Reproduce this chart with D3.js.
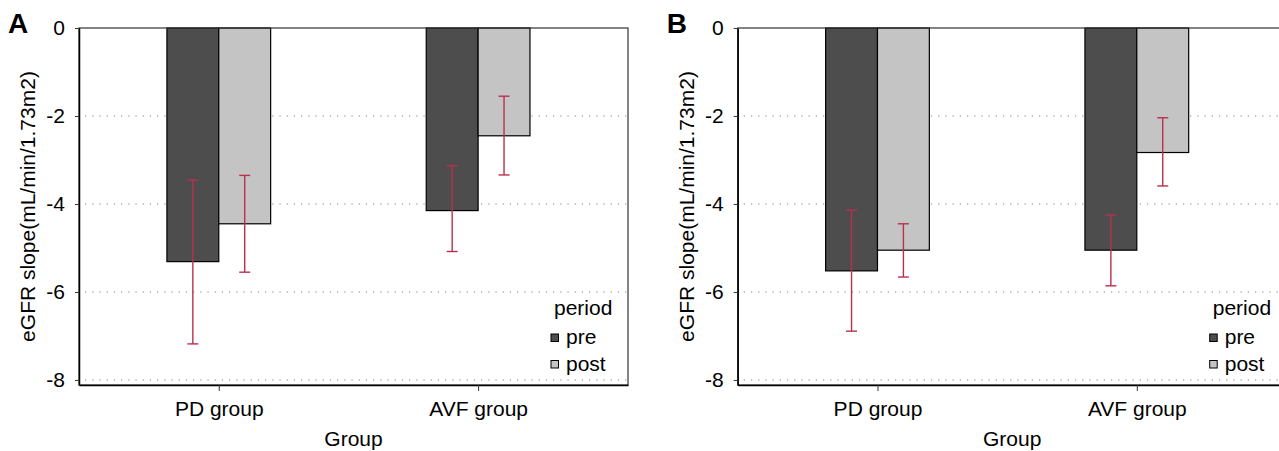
<!DOCTYPE html>
<html>
<head>
<meta charset="utf-8">
<script src="https://cdn.jsdelivr.net/npm/d3@7"></script>
<style>
  body { margin: 0; background: #fff; }
  svg { display: block; font-family: "Liberation Sans", Arial, sans-serif; }
</style>
</head>
<body>
<svg id="chart" width="1279" height="451"></svg>
<script>
// categories and series
var groups = ["PD group", "AVF group"];
var periods = ["pre", "post"];
var yTicks = [0, -2, -4, -6, -8];

// panel A : means and error bar ends
var aPre = [-5.31, -4.15];
var aPost = [-4.45, -2.45];
var aPreLow = [-7.18, -5.08];
var aPreHigh = [-3.46, -3.13];
var aPostLow = [-5.55, -3.34];
var aPostHigh = [-3.35, -1.55];

// panel B
var bPre = [-5.52, -5.05];
var bPost = [-5.05, -2.83];
var bPreLow = [-6.89, -5.86];
var bPreHigh = [-4.14, -4.25];
var bPostLow = [-5.66, -3.59];
var bPostHigh = [-4.45, -2.04];

var colors = { pre: "#4d4d4d", post: "#c4c4c4" };
var errColor = "#b8304e";

var svg = d3.select("#chart");

var plotW = 549, plotH = 357, plotTop = 28;

var x = d3.scaleLinear().domain([0.461, 2.578]).range([0, plotW]);
var y = d3.scaleLinear().domain([0, -8.114]).range([0, plotH]);
var barW = x(1.2) - x(1);

function rows(pre, post, preLow, preHigh, postLow, postHigh) {
  var out = [];
  groups.forEach(function(g, i) {
    out.push({ group: g, pos: i + 1, period: "pre", v: pre[i], lo: preLow[i], hi: preHigh[i] });
    out.push({ group: g, pos: i + 1, period: "post", v: post[i], lo: postLow[i], hi: postHigh[i] });
  });
  return out;
}

function drawPanel(left, letter, data) {
  var g = svg.append("g").attr("transform", "translate(" + left + "," + plotTop + ")");

  // dotted grid
  g.selectAll(".grid").data(yTicks.filter(function(d){ return d !== 0; }))
    .enter().append("line")
    .attr("x1", 6).attr("x2", plotW)
    .attr("y1", function(d){ return y(d); }).attr("y2", function(d){ return y(d); })
    .attr("stroke", "#b0b0b0").attr("stroke-width", 1.3)
    .attr("stroke-dasharray", "1.3,5.9");

  // bars
  g.selectAll(".bar").data(data).enter().append("rect")
    .attr("x", function(d){ return x(d.pos + (d.period === "pre" ? -0.2 : 0)); })
    .attr("y", y(0))
    .attr("width", barW)
    .attr("height", function(d){ return y(d.v) - y(0); })
    .attr("fill", function(d){ return colors[d.period]; })
    .attr("stroke", "#000").attr("stroke-width", 1.2);

  // error bars
  var eb = g.selectAll(".err").data(data).enter().append("g")
    .attr("stroke", errColor).attr("stroke-width", 1.4);
  function cx(d){ return x(d.pos + (d.period === "pre" ? -0.1 : 0.1)); }
  eb.append("line")
    .attr("x1", cx).attr("x2", cx)
    .attr("y1", function(d){ return y(d.hi); }).attr("y2", function(d){ return y(d.lo); });
  eb.append("line")
    .attr("x1", function(d){ return cx(d) - 5.5; }).attr("x2", function(d){ return cx(d) + 5.5; })
    .attr("y1", function(d){ return y(d.hi); }).attr("y2", function(d){ return y(d.hi); });
  eb.append("line")
    .attr("x1", function(d){ return cx(d) - 5.5; }).attr("x2", function(d){ return cx(d) + 5.5; })
    .attr("y1", function(d){ return y(d.lo); }).attr("y2", function(d){ return y(d.lo); });

  // panel border
  g.append("rect").attr("x", 0).attr("y", 0).attr("width", plotW).attr("height", plotH)
    .attr("fill", "none").attr("stroke", "#333").attr("stroke-width", 1.2);

  // y axis
  var yAxis = g.append("g").call(d3.axisLeft(y).tickValues(yTicks).tickSize(4).tickSizeOuter(0)
    .tickPadding(10).tickFormat(function(d){ return String(d); }));
  yAxis.select(".domain").attr("stroke", "#000").attr("stroke-width", 1.5);
  yAxis.selectAll(".tick line").attr("stroke", "#333");
  yAxis.selectAll(".tick text").attr("font-size", 21).attr("fill", "#000")
    .attr("font-family", "'Liberation Sans', Arial, sans-serif").attr("dy", "0.3em");

  // x axis
  var xAxis = g.append("g").attr("transform", "translate(0," + plotH + ")")
    .call(d3.axisBottom(x).tickValues([1, 2]).tickSize(6).tickSizeOuter(0).tickPadding(10)
      .tickFormat(function(d){ return groups[d - 1]; }));
  xAxis.select(".domain").attr("stroke", "#000").attr("stroke-width", 1.5);
  xAxis.selectAll(".tick line").attr("stroke", "#333");
  xAxis.selectAll(".tick text").attr("font-size", 21).attr("fill", "#000")
    .attr("font-family", "'Liberation Sans', Arial, sans-serif");

  // axis titles
  g.append("text").attr("x", plotW / 2).attr("y", 418)
    .attr("text-anchor", "middle").attr("font-size", 21).text("Group");
  g.append("text")
    .attr("transform", "translate(-51," + (plotH / 2) + ") rotate(-90)")
    .attr("text-anchor", "middle").attr("dy", "0.35em").attr("font-size", 21)
    .text("eGFR slope(mL/min/1.73m2)");

  // panel letter
  g.append("text").attr("x", -71).attr("y", 5).attr("font-size", 28)
    .attr("font-weight", "bold").text(letter);

  // legend
  var lg = g.append("g").attr("transform", "translate(" + (plotW - 77) + ",0)");
  lg.append("text").attr("x", 3).attr("y", 287).attr("font-size", 21).text("period");
  var items = lg.selectAll(".li").data(periods).enter().append("g")
    .attr("transform", function(d, i){ return "translate(0," + (306 + i * 26.5) + ")"; });
  items.append("rect").attr("width", 7.5).attr("height", 7.5)
    .attr("fill", function(d){ return colors[d]; })
    .attr("stroke", "#000").attr("stroke-width", 1);
  items.append("text").attr("x", 15).attr("y", 10).attr("font-size", 21)
    .text(function(d){ return d; });
}

drawPanel(79, "A", rows(aPre, aPost, aPreLow, aPreHigh, aPostLow, aPostHigh));
drawPanel(737.7, "B", rows(bPre, bPost, bPreLow, bPreHigh, bPostLow, bPostHigh));
</script>
</body>
</html>
